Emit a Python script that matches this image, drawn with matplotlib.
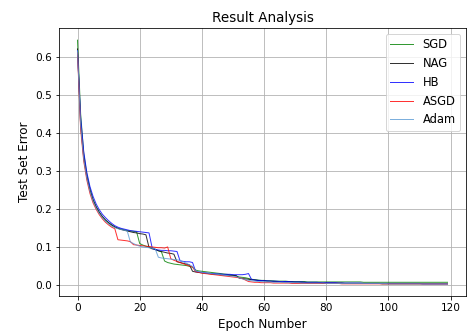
import numpy as np
import matplotlib
matplotlib.use('Agg')
import matplotlib.pyplot as plt

# Test set error per epoch
epochs = np.arange(120)

sgd = [0.643, 0.450, 0.345, 0.290, 0.252, 0.224, 0.205, 0.190, 0.178, 0.169,
       0.162, 0.156, 0.151, 0.148, 0.146, 0.144, 0.142, 0.141, 0.140, 0.139,
       0.108, 0.104, 0.101, 0.099, 0.097, 0.093, 0.089, 0.086, 0.062, 0.058,
       0.056, 0.054, 0.053, 0.052, 0.051, 0.050, 0.048, 0.046, 0.038, 0.036,
       0.035, 0.034, 0.033, 0.032, 0.031, 0.030, 0.029, 0.028, 0.027, 0.026,
       0.025, 0.022, 0.020, 0.019, 0.018, 0.016, 0.014, 0.013, 0.012, 0.011,
       0.011, 0.010, 0.010, 0.010, 0.009, 0.009, 0.009, 0.009, 0.008, 0.008,
       0.008, 0.008, 0.008, 0.008, 0.007, 0.007, 0.007, 0.007, 0.007, 0.007,
       0.007, 0.007, 0.007, 0.007, 0.007, 0.007, 0.007, 0.007, 0.007, 0.007,
       0.007, 0.007, 0.006, 0.006, 0.006, 0.006, 0.006, 0.006, 0.006, 0.006,
       0.006, 0.006, 0.006, 0.006, 0.006, 0.006, 0.006, 0.006, 0.006, 0.006,
       0.006, 0.006, 0.006, 0.006, 0.006, 0.006, 0.006, 0.006, 0.006, 0.006]

nag = [0.620, 0.420, 0.335, 0.283, 0.248, 0.222, 0.204, 0.190, 0.179, 0.170,
       0.163, 0.157, 0.152, 0.148, 0.145, 0.143, 0.141, 0.139, 0.137, 0.136,
       0.134, 0.133, 0.131, 0.098, 0.094, 0.092, 0.089, 0.087, 0.085, 0.083,
       0.082, 0.080, 0.060, 0.058, 0.056, 0.054, 0.052, 0.035, 0.033, 0.032,
       0.031, 0.030, 0.029, 0.028, 0.027, 0.027, 0.026, 0.025, 0.025, 0.024,
       0.024, 0.024, 0.017, 0.016, 0.015, 0.014, 0.013, 0.012, 0.011, 0.010,
       0.010, 0.009, 0.009, 0.008, 0.008, 0.008, 0.007, 0.007, 0.007, 0.007,
       0.006, 0.006, 0.006, 0.006, 0.005, 0.005, 0.005, 0.005, 0.005, 0.004,
       0.004, 0.004, 0.004, 0.004, 0.004, 0.004, 0.003, 0.003, 0.003, 0.003,
       0.003, 0.003, 0.003, 0.003, 0.003, 0.003, 0.003, 0.003, 0.002, 0.002,
       0.002, 0.002, 0.002, 0.002, 0.002, 0.002, 0.002, 0.002, 0.002, 0.002,
       0.002, 0.002, 0.002, 0.002, 0.002, 0.002, 0.002, 0.002, 0.002, 0.002]

hb = [0.615, 0.440, 0.350, 0.295, 0.258, 0.232, 0.212, 0.197, 0.185, 0.176,
      0.168, 0.161, 0.155, 0.151, 0.148, 0.146, 0.144, 0.142, 0.141, 0.140,
      0.139, 0.138, 0.137, 0.136, 0.097, 0.092, 0.091, 0.090, 0.090, 0.089,
      0.089, 0.088, 0.087, 0.062, 0.061, 0.060, 0.060, 0.058, 0.035, 0.033,
      0.032, 0.031, 0.030, 0.029, 0.029, 0.028, 0.028, 0.027, 0.027, 0.027,
      0.026, 0.026, 0.026, 0.026, 0.027, 0.029, 0.013, 0.012, 0.011, 0.011,
      0.010, 0.010, 0.009, 0.009, 0.009, 0.008, 0.008, 0.008, 0.008, 0.007,
      0.007, 0.007, 0.007, 0.006, 0.006, 0.006, 0.006, 0.006, 0.005, 0.005,
      0.005, 0.005, 0.005, 0.005, 0.004, 0.004, 0.004, 0.004, 0.004, 0.004,
      0.004, 0.004, 0.003, 0.003, 0.003, 0.003, 0.003, 0.003, 0.003, 0.003,
      0.003, 0.003, 0.003, 0.003, 0.003, 0.003, 0.003, 0.003, 0.003, 0.003,
      0.003, 0.002, 0.002, 0.002, 0.002, 0.002, 0.002, 0.002, 0.002, 0.002]

asgd = [0.610, 0.410, 0.325, 0.275, 0.240, 0.215, 0.198, 0.184, 0.173, 0.164,
        0.157, 0.151, 0.147, 0.118, 0.117, 0.116, 0.115, 0.113, 0.105, 0.104,
        0.103, 0.102, 0.101, 0.100, 0.099, 0.098, 0.097, 0.097, 0.096, 0.099,
        0.068, 0.064, 0.061, 0.058, 0.055, 0.052, 0.049, 0.046, 0.034, 0.032,
        0.030, 0.029, 0.028, 0.027, 0.026, 0.025, 0.024, 0.023, 0.022, 0.021,
        0.020, 0.019, 0.018, 0.016, 0.012, 0.008, 0.007, 0.006, 0.006, 0.005,
        0.005, 0.005, 0.005, 0.004, 0.004, 0.004, 0.004, 0.004, 0.004, 0.003,
        0.003, 0.003, 0.003, 0.003, 0.003, 0.003, 0.003, 0.003, 0.003, 0.003,
        0.003, 0.003, 0.003, 0.003, 0.003, 0.002, 0.002, 0.002, 0.002, 0.002,
        0.002, 0.002, 0.002, 0.002, 0.002, 0.002, 0.002, 0.002, 0.002, 0.002,
        0.002, 0.002, 0.002, 0.002, 0.002, 0.002, 0.002, 0.002, 0.002, 0.002,
        0.002, 0.002, 0.002, 0.002, 0.002, 0.002, 0.002, 0.002, 0.002, 0.002]

adam = [0.615, 0.420, 0.330, 0.280, 0.245, 0.219, 0.201, 0.187, 0.176, 0.167,
        0.160, 0.154, 0.150, 0.147, 0.145, 0.143, 0.141, 0.112, 0.108, 0.104,
        0.101, 0.099, 0.098, 0.097, 0.096, 0.094, 0.072, 0.070, 0.069, 0.068,
        0.067, 0.066, 0.065, 0.064, 0.060, 0.056, 0.052, 0.048, 0.036, 0.034,
        0.032, 0.031, 0.030, 0.029, 0.028, 0.027, 0.026, 0.025, 0.024, 0.023,
        0.022, 0.021, 0.018, 0.015, 0.013, 0.011, 0.010, 0.009, 0.008, 0.008,
        0.007, 0.007, 0.007, 0.006, 0.006, 0.006, 0.006, 0.005, 0.005, 0.005,
        0.005, 0.005, 0.004, 0.004, 0.004, 0.004, 0.004, 0.004, 0.004, 0.004,
        0.003, 0.003, 0.003, 0.003, 0.003, 0.003, 0.003, 0.003, 0.003, 0.003,
        0.003, 0.003, 0.003, 0.003, 0.003, 0.003, 0.003, 0.003, 0.003, 0.003,
        0.002, 0.002, 0.002, 0.002, 0.002, 0.002, 0.002, 0.002, 0.002, 0.002,
        0.002, 0.002, 0.002, 0.002, 0.002, 0.002, 0.002, 0.002, 0.002, 0.002]

labels = ['SGD', 'NAG', 'HB', 'ASGD', 'Adam']
colors = ['green', 'black', 'blue', 'red', '#5b9bd5']

fig = plt.figure(figsize=(468 / 72, 332 / 72), dpi=72)
ax = fig.add_axes([59 / 468, 36 / 332, 407 / 468, 268 / 332])

for series, lab, col in zip([sgd, nag, hb, asgd, adam], labels, colors):
    ax.plot(epochs, series, color=col, linewidth=1.0, alpha=0.8, label=lab)

ax.set_title('Result Analysis', fontsize=13.5)
ax.set_xlabel('Epoch Number', fontsize=12, labelpad=5)
ax.set_ylabel('Test Set Error', fontsize=12)
ax.set_xticks([0, 20, 40, 60, 80, 100, 120])
ax.tick_params(labelsize=10.5)
ax.grid(True)
ax.legend(loc='upper right', fontsize=11.5)

fig.savefig('out.png', dpi=72)
